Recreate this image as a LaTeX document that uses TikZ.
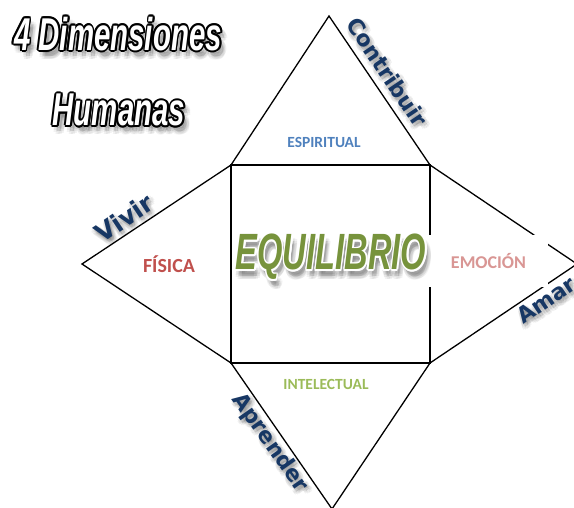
\documentclass[tikz,border=0pt]{standalone}
\usepackage{fontspec}
\setmainfont{Carlito}
\newfontfamily\impactfont[FakeStretch=0.64]{Liberation Sans}
\newfontfamily\wordfont{DejaVu Sans}
\usetikzlibrary{calc}

\definecolor{navy}{RGB}{23,55,100}
\definecolor{espblue}{RGB}{79,129,189}
\definecolor{fisred}{RGB}{192,80,77}
\definecolor{emopink}{RGB}{217,150,148}
\definecolor{intgreen}{RGB}{155,187,89}
\definecolor{eqgreen}{RGB}{119,147,60}

% text drawn over copies of itself, shifted round a small ring
\newcommand{\rimlabel}[7]{%
  \foreach \ang in {0,30,...,330}
    \node[#3, text=#4] at ($(#2)+(\ang:#7)$) {#6};
  \node[#3, text=#5] (#1) at (#2) {#6};
}
% soft grey shadow under a text
\newcommand{\softshadow}[4]{%
  \node[#2, text=black, opacity=.12] at ($(#1)+(#4)$) {#3};
  \foreach \ang in {0,40,...,320}
    \node[#2, text=black, opacity=.05] at ($(#1)+(#4)+(\ang:3)$) {#3};
}

\begin{document}
\begin{tikzpicture}[x=1pt,y=-1pt,
    edge/.style={line width=1.3pt},
    sideword/.style={font=\wordfont\bfseries\fontsize{#1}{#1}\selectfont, inner sep=0pt},
    bigword/.style={font=\impactfont\bfseries\itshape\fontsize{#1}{#1}\selectfont, inner sep=0pt},
    dimlabel/.style={font=\bfseries\fontsize{#1}{#1}\selectfont, inner sep=0pt}]
    \useasboundingbox (0,0) rectangle (574,508);
    % square corners and triangle tips
    \coordinate (tl) at (231,165);
    \coordinate (tr) at (430,165);
    \coordinate (bl) at (231,363);
    \coordinate (br) at (430,363);
    \coordinate (top) at (329,16);
    \coordinate (left) at (82,264);
    \coordinate (right) at (577,264);
    \coordinate (bottom) at (332,509);

    \draw[edge] (tl) -- (top) -- (tr);
    \draw[edge] (tl) -- (left) -- (bl);
    \draw[edge] (tr) -- (right) -- (br);
    \draw[edge] (bl) -- (bottom) -- (br);
    \draw[line width=1.7pt] (tl) rectangle (br);

    % the four dimensions
    \node[dimlabel=15.5, text=espblue] (espiritual) at (324,142) {ESPIRITUAL};
    \node[dimlabel=20, text=fisred] (fisica) at (169,264) {FÍSICA};
    \node[dimlabel=18, text=emopink, fill=white, minimum width=119pt, minimum height=52pt] (emocion) at (488.5,261.5) {EMOCIÓN};
    \node[dimlabel=15.5, text=intgreen] (intelectual) at (326,384) {INTELECTUAL};

    % centre word
    \softshadow{331,257}{bigword=51}{EQUILIBRIO}{3,7}
    \rimlabel{equilibrio}{331,257}{bigword=51}{white}{eqgreen}{EQUILIBRIO}{1.4}

    % verbs along the outer edges
    \softshadow{387,72}{sideword=22, rotate=-56}{Contribuir}{2,3}
    \node[sideword=22, rotate=-56, text=navy] (contribuir) at (387,72) {Contribuir};
    \softshadow{124,218}{sideword=25, rotate=34}{Vivir}{2,3}
    \node[sideword=25, rotate=34, text=navy] (vivir) at (124,218) {Vivir};
    \softshadow{546,300}{sideword=22, rotate=34}{Amar}{2,3}
    \node[sideword=22, rotate=34, text=navy] (amar) at (546,300) {Amar};
    \softshadow{270,443}{sideword=22, rotate=-55}{Aprender}{2,3}
    \node[sideword=22, rotate=-55, text=navy] (aprender) at (270,443) {Aprender};

    % title
    \softshadow{118,34}{bigword=46}{4 Dimensiones}{4,6}
    \rimlabel{titleA}{118,34}{bigword=46}{black}{white}{4 Dimensiones}{1.8}
    \softshadow{119,110}{bigword=46}{Humanas}{4,6}
    \rimlabel{titleB}{119,110}{bigword=46}{black}{white}{Humanas}{1.8}
\end{tikzpicture}
\end{document}
